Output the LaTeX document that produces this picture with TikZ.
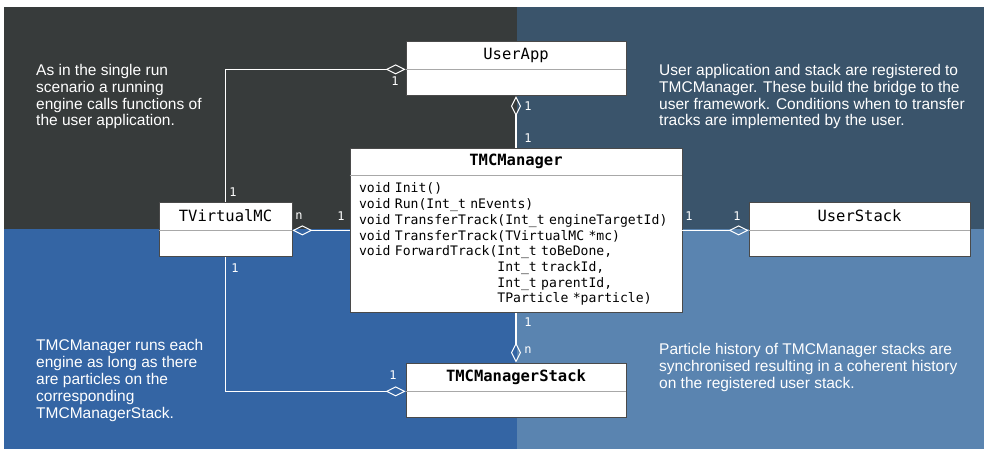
\documentclass[tikz,border=0pt]{standalone}
\usepackage{fontspec}
\setmainfont{Liberation Sans}
\setmonofont{DejaVu Sans Mono}
\usepackage{xcolor}
\usetikzlibrary{arrows.meta}
\usetikzlibrary{positioning}

\definecolor{quadTL}{HTML}{373B3B}
\definecolor{quadTR}{HTML}{3A546B}
\definecolor{quadBL}{HTML}{3465A4}
\definecolor{quadBR}{HTML}{5A84B0}
\definecolor{boxline}{HTML}{4A4A4A}
\definecolor{divline}{HTML}{A8A8A8}

\newcommand{\monofont}[1]{\fontsize{#1}{1.2em}\selectfont\ttfamily\spaceskip=0.602em\relax}

\tikzset{
	classhead/.style={draw=boxline, fill=white, line width=0.8pt, inner sep=0pt,
		minimum height=28pt, font=\monofont{15.5}},
	classbody/.style={draw=boxline, fill=white, line width=0.8pt, inner sep=0pt,
		minimum height=26pt},
	assoc/.style={draw=white, line width=1.6pt,
		-{Diamond[open, length=20pt, width=10pt, line width=1pt]}},
	mult/.style={text=white, inner sep=0pt, font=\monofont{12}},
	note/.style={text=white, align=left, anchor=north west, inner sep=0pt,
		font=\fontsize{15.5}{16.8}\selectfont},
}

\begin{document}
\begin{tikzpicture}[x=1pt,y=-1pt]
	\useasboundingbox (0,0) rectangle (984,449);
	
	% Background
	\fill[white] (0,0) rectangle (984,449);
	\fill[quadTL] (4,7) rectangle (517,229);
	\fill[quadTR] (517,7) rectangle (984,229);
	\fill[quadBL] (4,229) rectangle (517,449);
	\fill[quadBR] (517,229) rectangle (984,449);
	
	% Classes
	\node[classhead, minimum width=220pt] (userapp) at (516,55) {UserApp};
	\node[classbody, minimum width=220pt, below=0pt of userapp] (userapp-b) {};
	
	\node[classhead, minimum width=332pt, minimum height=27pt, font=\monofont{15.5}\bfseries] (tmc) at (516,161.5) {TMCManager};
	\node[classbody, minimum width=332pt, minimum height=137pt, text width=314pt, inner xsep=9pt,
		align=left, font={\fontsize{13.1}{15.7}\selectfont\ttfamily\spaceskip=0.602em\relax}, below=0pt of tmc] (tmc-b) {%
		void Init()\\
		void Run(Int\_t nEvents)\\
		void TransferTrack(Int\_t engineTargetId)\\
		void TransferTrack(TVirtualMC *mc)\\
		void ForwardTrack(Int\_t toBeDone,\\
		\phantom{void ForwardTrack(}Int\_t trackId,\\
		\phantom{void ForwardTrack(}Int\_t parentId,\\
		\phantom{void ForwardTrack(}TParticle *particle)};
	
	\node[classhead, minimum width=133pt] (tvmc) at (225.5,216) {TVirtualMC};
	\node[classbody, minimum width=133pt, below=0pt of tvmc] (tvmc-b) {};
	
	\node[classhead, minimum width=221pt] (userstack) at (859.5,216) {UserStack};
	\node[classbody, minimum width=221pt, below=0pt of userstack] (userstack-b) {};
	
	\node[classhead, minimum width=220pt, font=\monofont{15.5}\bfseries] (tmcstack) at (516,377) {TMCManagerStack};
	\node[classbody, minimum width=220pt, below=0pt of tmcstack] (tmcstack-b) {};
	
	\foreach \c in {userapp,tmc,tvmc,userstack,tmcstack} {
		\draw[divline, line width=0.8pt] (\c.south west) -- (\c.south east);
	}
	
	% Associations
	\draw[assoc] (tvmc.north) |- (userapp.south west);
	\draw[assoc] (tmc.north) -- (userapp-b.south);
	\draw[assoc] (tmc-b.west |- tvmc.south) -- (tvmc.south east);
	\draw[assoc] (tmc-b.east |- userstack.south) -- (userstack.south west);
	\draw[assoc] (tmc-b.south) -- (tmcstack.north);
	\draw[assoc] (tvmc-b.south) |- (tmcstack.south west);
	
	% Multiplicities
	\node[mult] (m-ua1) at (395,81) {1};
	\node[mult] (m-tv1) at (233,192) {1};
	\node[mult] (m-ua2) at (528,106) {1};
	\node[mult] (m-tm1) at (528,138) {1};
	\node[mult] (m-tv2) at (299,216) {n};
	\node[mult] (m-tm2) at (341,216) {1};
	\node[mult] (m-tm3) at (689,216) {1};
	\node[mult] (m-us1) at (737,216) {1};
	\node[mult] (m-tv3) at (235,268) {1};
	\node[mult] (m-ts1) at (393,375) {1};
	\node[mult] (m-tm4) at (528,322) {1};
	\node[mult] (m-ts2) at (528,350) {n};
	
	% Notes
	\node[note] (note-tl) at (36,64) {As in the single run\\scenario a running\\engine calls functions of\\the user application.};
	\node[note] (note-tr) at (659,64) {User application and stack are registered to\\TMCManager. These build the bridge to the\\user framework. Conditions when to transfer\\tracks are implemented by the user.};
	\node[note] (note-bl) at (36,339.5) {TMCManager runs each\\engine as long as there\\are particles on the\\corresponding\\TMCManagerStack.};
	\node[note] (note-br) at (659,343.5) {Particle history of TMCManager stacks are\\synchronised resulting in a coherent history\\on the registered user stack.};
\end{tikzpicture}
\end{document}
